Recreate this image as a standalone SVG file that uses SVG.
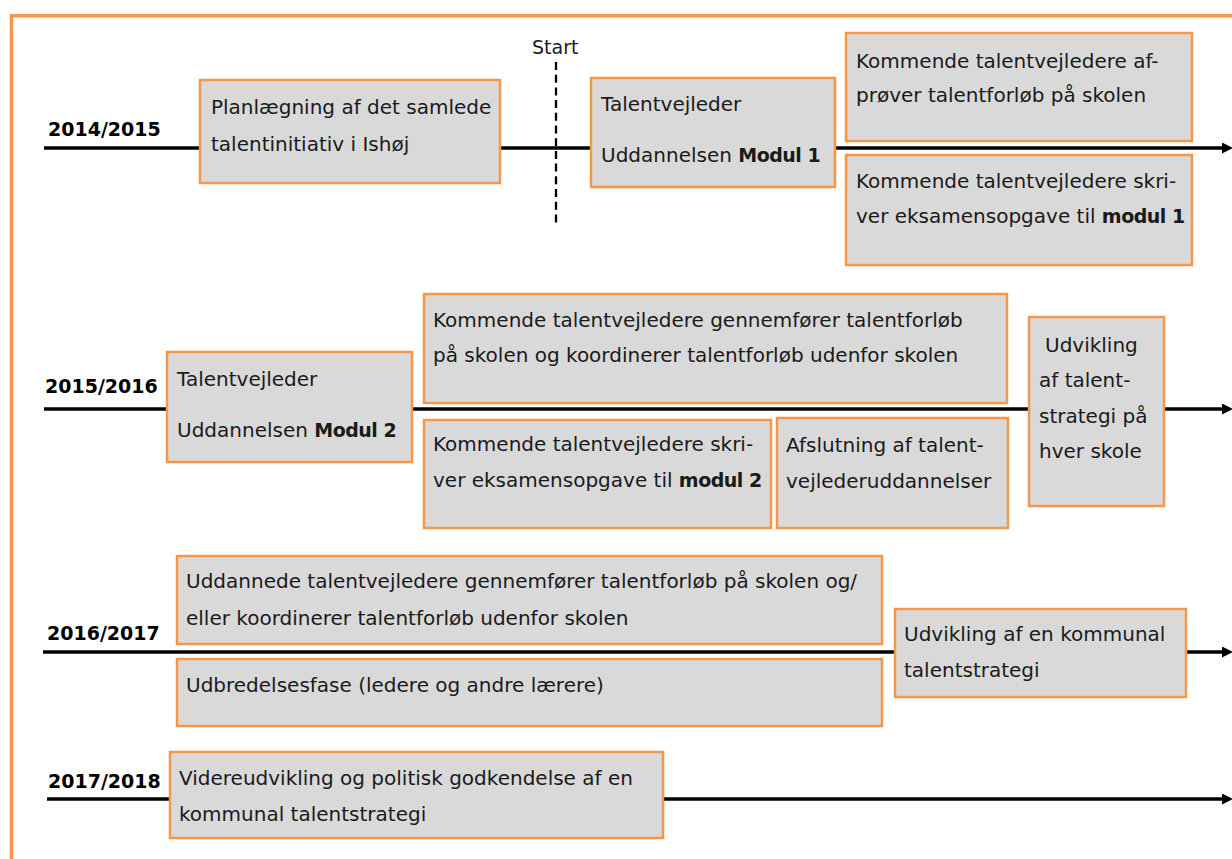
<svg xmlns="http://www.w3.org/2000/svg" width="1232" height="859" viewBox="0 0 1232 859">
<style>
  .bg { fill: #ffffff; }
  .frame { fill: none; stroke: #f79646; stroke-width: 3.5; }
  .box { fill: #d9d9d9; stroke: #f79646; stroke-width: 2.5; }
  .t { font-family: "DejaVu Sans", "Noto Sans", sans-serif; font-size: 20px; fill: #1a1a1a; }
  .b { font-weight: bold; font-size: 19px; letter-spacing: -0.5px; }
  .year { font-family: "DejaVu Sans", "Noto Sans", sans-serif; font-size: 19px; font-weight: bold; fill: #000000; }
  .line { stroke: #000000; stroke-width: 3.5; fill: none; }
  .dash { stroke: #000000; stroke-width: 2.3; stroke-dasharray: 8 4.7; fill: none; }
</style>
<defs>
  <marker id="arrow" markerUnits="userSpaceOnUse" markerWidth="11" markerHeight="11" viewBox="0 0 10 10" refX="0" refY="5" orient="auto">
    <path d="M0 0 L10 5 L0 10 z" fill="#000000"/>
  </marker>
</defs>
<rect class="bg" x="0" y="0" width="1232" height="859"/>
<path class="frame" d="M11.5 859 V15.7 H1232"/>

<g id="connectors">
  <line class="line" x1="44" y1="148" x2="1222" y2="148" marker-end="url(#arrow)"/>
  <line class="line" x1="44" y1="409" x2="1222" y2="409" marker-end="url(#arrow)"/>
  <line class="line" x1="43" y1="652" x2="1222" y2="652" marker-end="url(#arrow)"/>
  <line class="line" x1="47" y1="799" x2="1222" y2="799" marker-end="url(#arrow)"/>
  <line class="dash" x1="556" y1="62" x2="556" y2="227"/>
</g>

<g id="labels">
  <text class="t" x="532" y="54" style="font-size:19px">Start</text>
  <text class="year" x="48" y="136">2014/2015</text>
  <text class="year" x="45" y="393">2015/2016</text>
  <text class="year" x="47" y="640">2016/2017</text>
  <text class="year" x="48" y="788">2017/2018</text>
</g>

<g id="planlaegning">
  <rect class="box" x="200" y="80" width="300" height="103"/>
  <text class="t" x="211" y="114">Planlægning af det samlede</text>
  <text class="t" x="211" y="151">talentinitiativ i Ishøj</text>
</g>

<g id="modul1">
  <rect class="box" x="591" y="78" width="244" height="109"/>
  <text class="t" x="601" y="111">Talentvejleder</text>
  <text class="t" x="601" y="162">Uddannelsen <tspan class="b">Modul 1</tspan></text>
</g>

<g id="afproever">
  <rect class="box" x="846" y="33" width="346" height="108"/>
  <text class="t" x="856" y="68">Kommende talentvejledere af-</text>
  <text class="t" x="856" y="102">prøver talentforløb på skolen</text>
</g>

<g id="eksamen1">
  <rect class="box" x="846" y="155" width="346" height="110"/>
  <text class="t" x="856" y="188">Kommende talentvejledere skri-</text>
  <text class="t" x="856" y="223">ver eksamensopgave til <tspan class="b">modul 1</tspan></text>
</g>

<g id="modul2">
  <rect class="box" x="167" y="352" width="245" height="110"/>
  <text class="t" x="177" y="386">Talentvejleder</text>
  <text class="t" x="177" y="437">Uddannelsen <tspan class="b">Modul 2</tspan></text>
</g>

<g id="gennemfoerer">
  <rect class="box" x="424" y="294" width="583" height="109"/>
  <text class="t" x="433" y="327">Kommende talentvejledere gennemfører talentforløb</text>
  <text class="t" x="433" y="362">på skolen og koordinerer talentforløb udenfor skolen</text>
</g>

<g id="eksamen2">
  <rect class="box" x="424" y="420" width="347" height="108"/>
  <text class="t" x="433" y="451">Kommende talentvejledere skri-</text>
  <text class="t" x="433" y="487">ver eksamensopgave til <tspan class="b">modul 2</tspan></text>
</g>

<g id="afslutning">
  <rect class="box" x="777" y="418" width="231" height="110"/>
  <text class="t" x="786" y="452">Afslutning af talent-</text>
  <text class="t" x="786" y="488">vejlederuddannelser</text>
</g>

<g id="skolestrategi">
  <rect class="box" x="1029" y="317" width="135" height="189"/>
  <text class="t" x="1045" y="352">Udvikling</text>
  <text class="t" x="1039" y="387">af talent-</text>
  <text class="t" x="1039" y="423">strategi på</text>
  <text class="t" x="1039" y="458">hver skole</text>
</g>

<g id="uddannede">
  <rect class="box" x="177" y="556" width="705" height="88"/>
  <text class="t" x="186" y="588">Uddannede talentvejledere gennemfører talentforløb på skolen og/</text>
  <text class="t" x="186" y="625">eller koordinerer talentforløb udenfor skolen</text>
</g>

<g id="udbredelse">
  <rect class="box" x="177" y="659" width="705" height="67"/>
  <text class="t" x="186" y="692">Udbredelsesfase (ledere og andre lærere)</text>
</g>

<g id="kommunal">
  <rect class="box" x="895" y="609" width="291" height="88"/>
  <text class="t" x="904" y="641">Udvikling af en kommunal</text>
  <text class="t" x="904" y="677">talentstrategi</text>
</g>

<g id="videreudvikling">
  <rect class="box" x="170" y="752" width="493" height="86"/>
  <text class="t" x="179" y="785">Videreudvikling og politisk godkendelse af en</text>
  <text class="t" x="179" y="821">kommunal talentstrategi</text>
</g>
</svg>
